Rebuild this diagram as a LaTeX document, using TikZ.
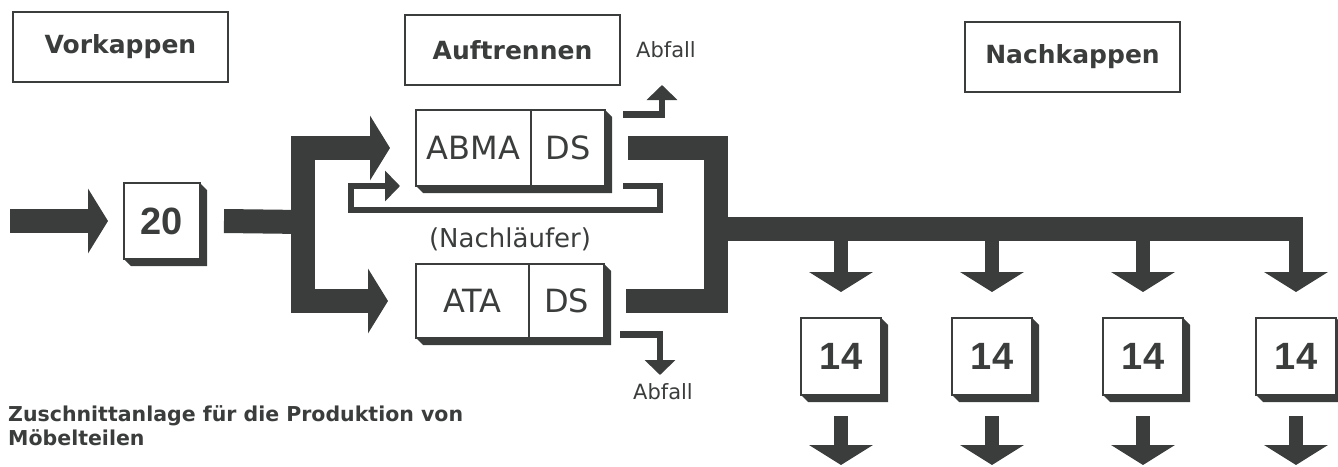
\documentclass[tikz,border=0pt]{standalone}
\usepackage{fontspec}
\setmainfont{DejaVu Sans}
\newfontfamily\numfont{Liberation Sans}
\usetikzlibrary{arrows.meta}
\definecolor{ink}{RGB}{58,61,60}
\tikzset{
  head/.style={draw=ink, line width=1.2pt, minimum width=215pt, minimum height=70pt, text=ink, font=\bfseries\fontsize{25}{30}\selectfont},
  face/.style={draw=ink, line width=1.5pt, fill=white, inner sep=0pt, outer sep=0pt, minimum height=76pt, text=ink, font=\fontsize{32}{36}\selectfont},
  num/.style={face, minimum width=80pt, minimum height=77pt, font=\numfont\bfseries\fontsize{38}{40}\selectfont},
  band/.style={draw=ink, line width=24pt},
  bandarrow/.style={band, -{Triangle[length=20pt,width=64pt]}},
  drop/.style={draw=ink, line width=14pt, -{Triangle[length=20pt,width=63pt]}},
  thinband/.style={draw=ink, line width=6.5pt},
  thinarrow/.style={thinband, -{Triangle[length=15pt,width=30pt]}},
  waste/.style={text=ink, font=\fontsize{21}{24}\selectfont},
}
\begin{document}
\begin{tikzpicture}[x=1pt,y=-1pt]
  \useasboundingbox (0,0) rectangle (1338,466);
  \node[head] (vor) at (120.5,47) {Vorkappen};
  \node[head] (auf) at (512.5,50) {Auftrennen};
  \node[head] (nach) at (1072.5,57) {Nachkappen};

  \node[num, minimum width=76pt, minimum height=76pt] (n20) at (162,221) {20};
  \node[face, minimum width=115pt, anchor=north west] (abma) at (416,110) {ABMA};
  \node[face, minimum width=74pt, anchor=west] (abmads) at (abma.east) {DS};
  \node[face, minimum width=113pt, minimum height=74pt, anchor=north west] (ata) at (416,264) {ATA};
  \node[face, minimum width=75pt, minimum height=74pt, anchor=west] (atads) at (ata.east) {DS};
  \foreach \i/\x in {1/841,2/992,3/1143,4/1296}
    \node[num] (k\i) at (\x,356.5) {14};
  \foreach \l/\r in {n20/n20,abma/abmads,ata/atads,k1/k1,k2/k2,k3/k3,k4/k4}
    \fill[ink] (\r.north east) -- ([shift={(7,7)}]\r.north east) -- ([shift={(7,7)}]\r.south east)
      -- ([shift={(7,7)}]\l.south west) -- (\l.south west) -- (\r.south east) -- cycle;

  \coordinate (split) at (302.5,222);
  \coordinate (merge) at (716,229);
  \coordinate (w1) at (662,85);
  \coordinate (w2) at (660,375);

  \draw[bandarrow] ([xshift=-114pt]n20.west) -- ([xshift=-16pt]n20.west);
  \draw[band] ([xshift=24pt]n20.east) -- (split);
  \draw[bandarrow] (split) |- ([xshift=-26pt]abma.west);
  \draw[bandarrow] (split) |- ([xshift=-28pt]ata.west);
  \draw[thinarrow] ([xshift=18pt]abmads.south east) -- ++(37,0) |- (351,210) |- ([xshift=-16pt]abma.south west);
  \draw[thinarrow] ([xshift=18pt,yshift=-4.5pt]abmads.north east) -| (w1);
  \draw[thinarrow] ([xshift=16pt,yshift=3.5pt]atads.south east) -| (w2);

  \draw[band] ([xshift=23pt]abmads.east) -| (merge) |- ([xshift=22pt]atads.east);
  \draw[band] (merge) -- (1303,229);
  \foreach \i in {1,...,4} {
    \draw[drop] (k\i |- merge) -- ([yshift=26pt]k\i.north);
    \draw[drop] ([yshift=-21pt]k\i.south) -- ++(0,49);
  }

  \node[waste] (abf1) at (666,50) {Abfall};
  \node[waste] (abf2) at (663,392) {Abfall};
  \node[text=ink, font=\fontsize{26}{30}\selectfont] (lauf) at (510,239) {(Nachläufer)};
  \node[anchor=north west, align=left, inner sep=0pt, text=ink, font=\bfseries\fontsize{20.5}{24}\selectfont] (cap) at (8,405)
    {Zuschnittanlage für die Produktion von\\Möbelteilen};
\end{tikzpicture}
\end{document}
